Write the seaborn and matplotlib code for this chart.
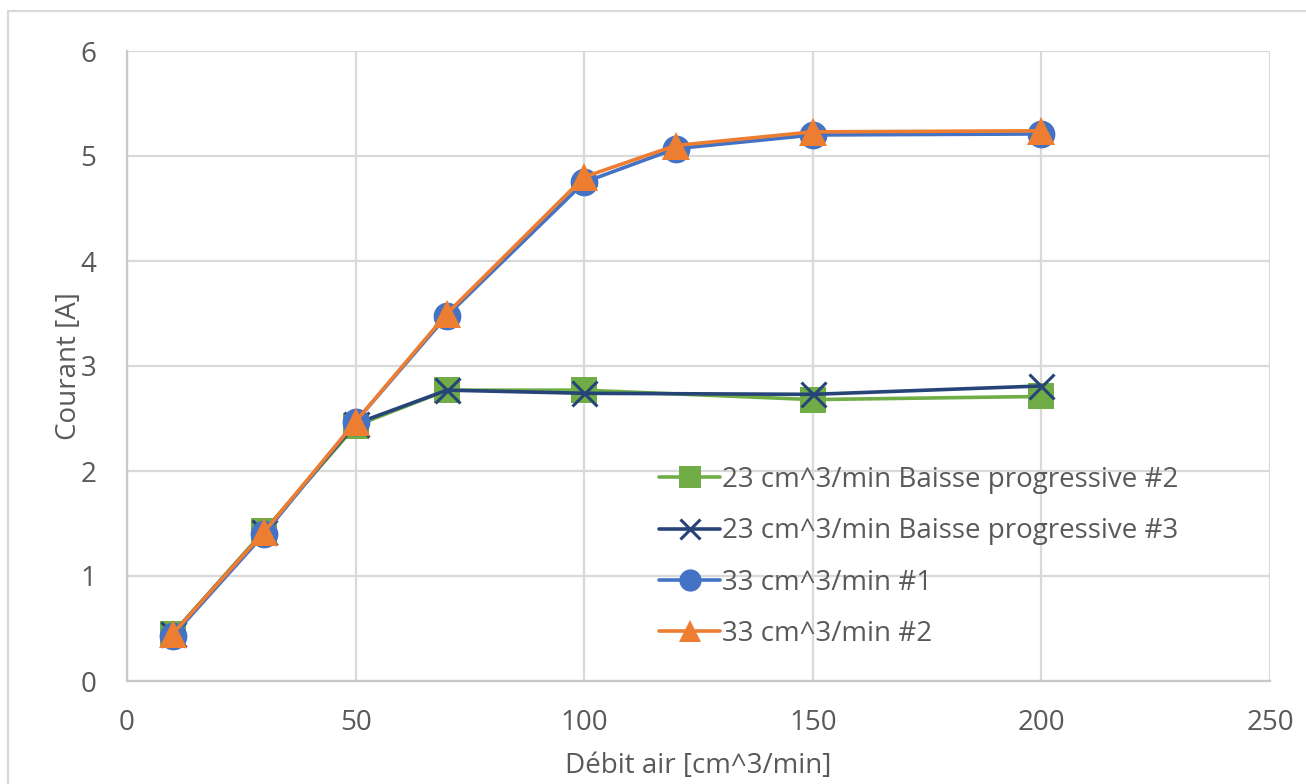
import matplotlib
matplotlib.use("Agg")
import matplotlib.pyplot as plt
import seaborn as sns
import pandas as pd
from matplotlib.patches import Rectangle

# Measured currents versus air flow rate
x_23 = [10, 30, 50, 70, 100, 150, 200]
y_23_baisse2 = [0.45, 1.43, 2.43, 2.77, 2.77, 2.68, 2.71]
y_23_baisse3 = [0.45, 1.42, 2.45, 2.77, 2.74, 2.73, 2.81]

x_33 = [10, 30, 50, 70, 100, 120, 150, 200]
y_33_1 = [0.43, 1.40, 2.47, 3.48, 4.75, 5.07, 5.20, 5.21]
y_33_2 = [0.45, 1.42, 2.47, 3.50, 4.80, 5.10, 5.23, 5.24]

labels = [
    "23 cm^3/min Baisse progressive #2",
    "23 cm^3/min Baisse progressive #3",
    "33 cm^3/min #1",
    "33 cm^3/min #2",
]
x_ticks = [0, 50, 100, 150, 200, 250]
y_ticks = [0, 1, 2, 3, 4, 5, 6]

sns.set_theme(style="white")
plt.rcParams["font.family"] = ["Open Sans", "DejaVu Sans"]

TEXT = "#595959"
GRID = "#d9d9d9"
FS = 20

fig = plt.figure(figsize=(13.06, 7.84), dpi=100)
ax = fig.add_axes([127 / 1306, 1 - 681 / 784, (1270 - 127) / 1306, (681 - 51) / 784])

series = [
    (x_23, y_23_baisse2, labels[0], "#70ad47", "s", 19, None),
    (x_23, y_23_baisse3, labels[1], "#264478", "x", 18, 2.2),
    (x_33, y_33_1, labels[2], "#4472c4", "o", 20, None),
    (x_33, y_33_2, labels[3], "#ed7d31", "^", 20, None),
]
for xs, ys, lab, col, mk, ms, mew in series:
    df = pd.DataFrame({"x": xs, "y": ys})
    kw = dict(markersize=ms, markeredgecolor=col, markerfacecolor=col,
              markeredgewidth=mew if mew is not None else 0)
    sns.lineplot(data=df, x="x", y="y", ax=ax, color=col, marker=mk,
                 linewidth=2.6, label=lab, sort=False, **kw)

ax.set_xlim(0, 250)
ax.set_ylim(0, 6)
ax.set_xticks(x_ticks)
ax.set_yticks(y_ticks)
ax.grid(True, color=GRID, linewidth=1.6)
ax.set_axisbelow(True)
for side in ["top", "right"]:
    ax.spines[side].set_visible(False)
for side in ["left", "bottom"]:
    ax.spines[side].set_color("#c8c8c8")
    ax.spines[side].set_linewidth(1.6)
ax.tick_params(axis="x", length=0, labelsize=FS, colors=TEXT, pad=20)
ax.tick_params(axis="y", length=0, labelsize=FS, colors=TEXT, pad=22)

ax.set_xlabel("Débit air [cm^3/min]", fontsize=FS, color=TEXT, labelpad=11)
ax.set_ylabel("Courant [A]", fontsize=FS, color=TEXT, labelpad=-2)

leg = ax.legend(loc="center left", bbox_to_anchor=(0.456, 0.197), frameon=False,
                fontsize=FS, labelcolor=TEXT, handlelength=2.2, handletextpad=0.05,
                labelspacing=0.84, borderaxespad=0, markerscale=0.8)

# Outer chart border
fig.patches.append(Rectangle((8 / 1306, -0.01), 1.02, 1 - 11 / 784 + 0.01,
                             transform=fig.transFigure, fill=False,
                             edgecolor="#d9d9d9", linewidth=1.6))

fig.savefig("out.png", dpi=100)
